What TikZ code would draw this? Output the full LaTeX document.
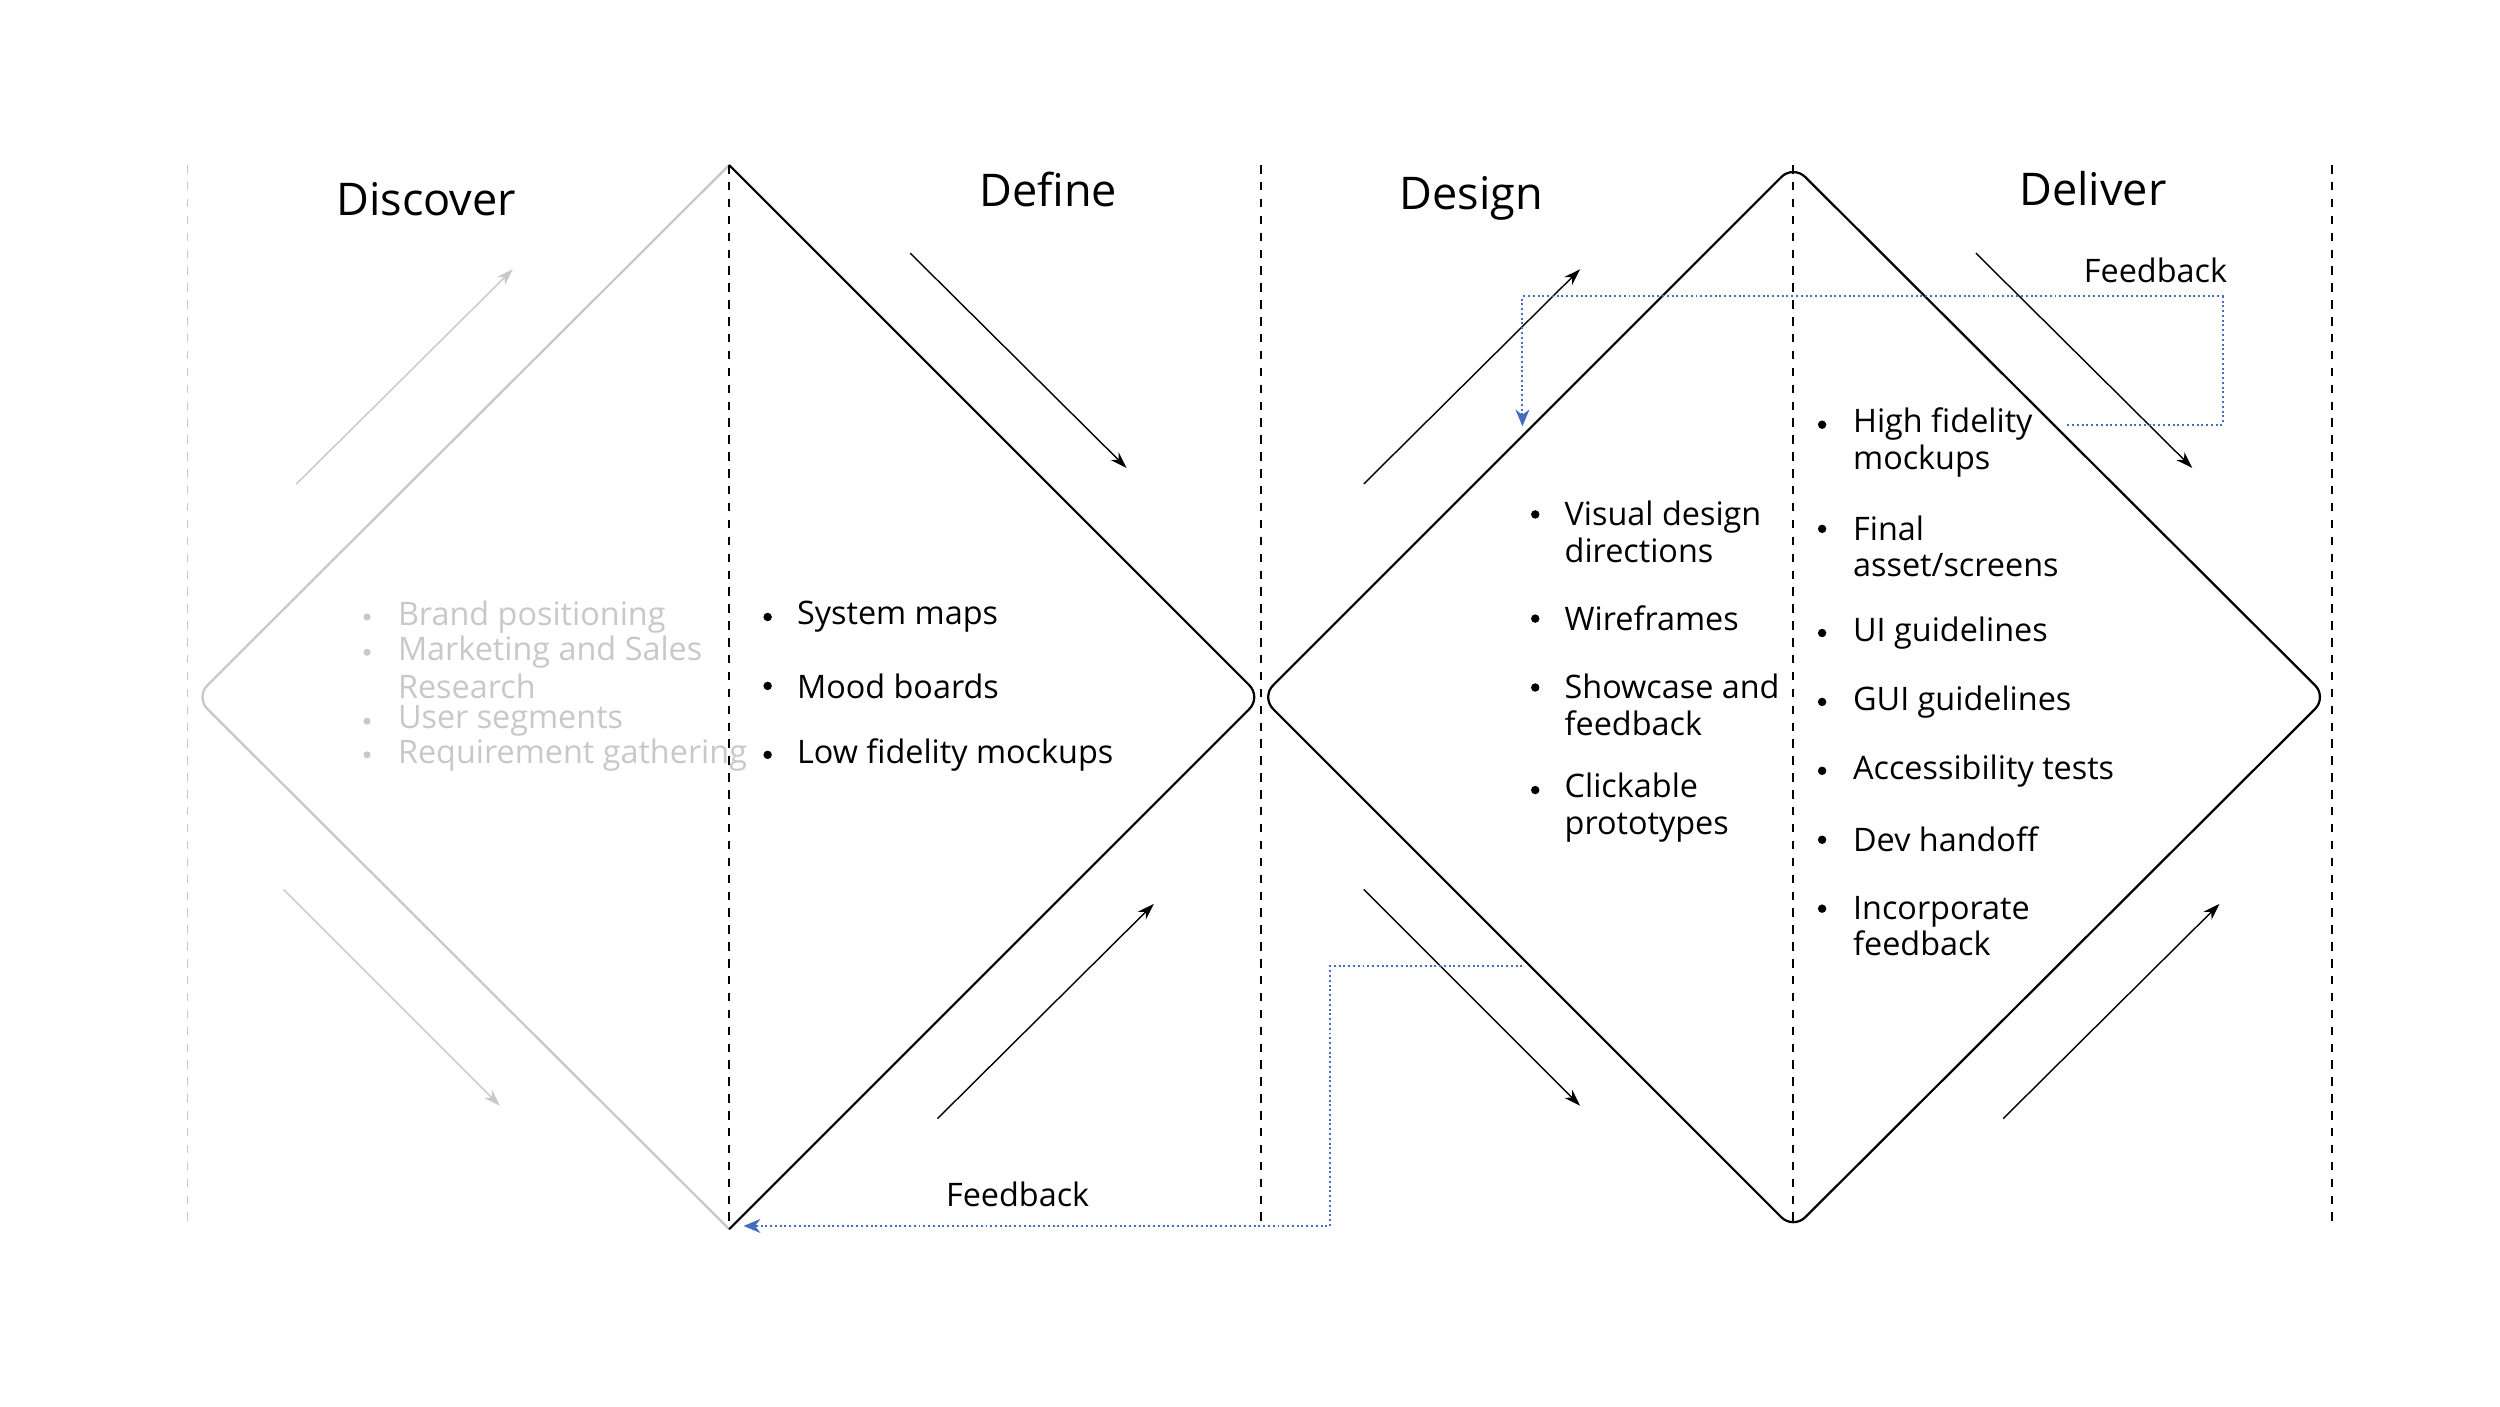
\documentclass[tikz,border=0pt]{standalone}
\usepackage{fontspec}
\setmainfont{Open Sans}
\usetikzlibrary{arrows.meta}
\definecolor{lightgr}{RGB}{200,200,200}
\definecolor{fbblue}{RGB}{70,110,190}
\begin{document}
\begin{tikzpicture}[x=0.02cm,y=-0.02cm,
  phase/.style={font=\fontsize{16}{18}\selectfont},
  item/.style={anchor=west,align=left,inner sep=0pt,font=\fontsize{11.5}{13}\selectfont},
  dot/.style={circle,fill,inner sep=0pt,minimum size=3pt},
  divider/.style={dashed,line width=0.7pt},
  flow/.style={-{Stealth[length=6pt,width=4pt]},line width=0.5pt},
  feedback/.style={densely dotted,fbblue,line width=0.7pt},
  rim/.style={line width=0.8pt,rounded corners=6pt}]
  \useasboundingbox (0,0) rectangle (1560,877.5);
  % diamonds
  \coordinate (L1) at (122,435); \coordinate (T1) at (455,103);
  \coordinate (M)  at (787,435); \coordinate (B1) at (455,767);
  \coordinate (T2) at (1119,103); \coordinate (R2) at (1452,435);
  \coordinate (B2) at (1119,767);
  \draw[rim,lightgr] (T1) -- (L1) -- (B1);
  \draw[rim] (B1) -- (M) -- (T1);
  \draw[rim] (M) -- (T2) -- (R2) -- (B2) -- cycle;
  % dividers
  \draw[divider,lightgr] (117,103) -- (117,762);
  \foreach \x in {455,787,1119,1455}
    \draw[divider] (\x,103) -- (\x,762);
  % headings
  \node[phase] (discover) at (266,124) {Discover};
  \node[phase] (define) at (654,118) {Define};
  \node[phase] (design) at (918,124) {Design};
  \node[phase] (deliver) at (1306,118) {Deliver};
  % arrows
  \draw[flow,lightgr] (185,302) -- (320,168);
  \draw[flow,lightgr] (177,555) -- (312,690);
  \foreach \ax/\ay/\bx/\by in {568/158/703/292, 585/698/720/564, 851/302/986/168,
      851/555/986/690, 1233/158/1368/292, 1250/698/1385/564}
    \draw[flow] (\ax,\ay) -- (\bx,\by);
  % feedback loops
  \coordinate (fb1) at (950,603);
  \coordinate (fb2) at (1290,265);
  \draw[feedback] (fb1) -- (830,603) -- (830,765) -- (468,765);
  \draw[-{Stealth[length=6pt,width=5pt]},fbblue] (472,765) -- (464,765);
  \node[font=\fontsize{11.5}{13}\selectfont] (fbl1) at (635,745) {Feedback};
  \draw[feedback] (fb2) -- (1387,265) -- (1387,185) -- (950,185) -- (950,262);
  \draw[-{Stealth[length=6pt,width=5pt]},fbblue] (950,258) -- (950,266);
  \node[font=\fontsize{11.5}{13}\selectfont] (fbl2) at (1345,169) {Feedback};
  % discover list
  \foreach \t/\y in {Brand positioning/385, Marketing and Sales/407, User segments/450, Requirement gathering/471}
    \node[dot,lightgr,minimum size=2.5pt] at (229,\y) {};
  \foreach \t/\y in {Brand positioning/385, Marketing and Sales/407, Research/428, User segments/450, Requirement gathering/471}
    \node[item,text=lightgr] at (248,\y) {\t};
  % define list
  \foreach \t/\y in {System maps/385, Mood boards/428, Low fidelity mockups/471}
    { \node[dot] at (479,\y) {}; \node[item] at (497,\y) {\t}; }
  % design list
  \foreach \t/\y/\c in {{Visual design\\directions}/332/321, Wireframes/386/386,
      {Showcase and\\feedback}/440/429, {Clickable\\prototypes}/504/493}
    { \node[dot] at (958,\c) {}; \node[item] at (976,\y) {\t}; }
  % deliver list
  \foreach \t/\y/\c in {{High fidelity\\mockups}/276/265, {Final\\asset/screens}/341/330,
      UI guidelines/395/395, GUI guidelines/438/438, Accessibility tests/481/481,
      Dev handoff/524/524, {Incorporate\\feedback}/578/567}
    { \node[dot] at (1137,\c) {}; \node[item] at (1156,\y) {\t}; }
\end{tikzpicture}
\end{document}
